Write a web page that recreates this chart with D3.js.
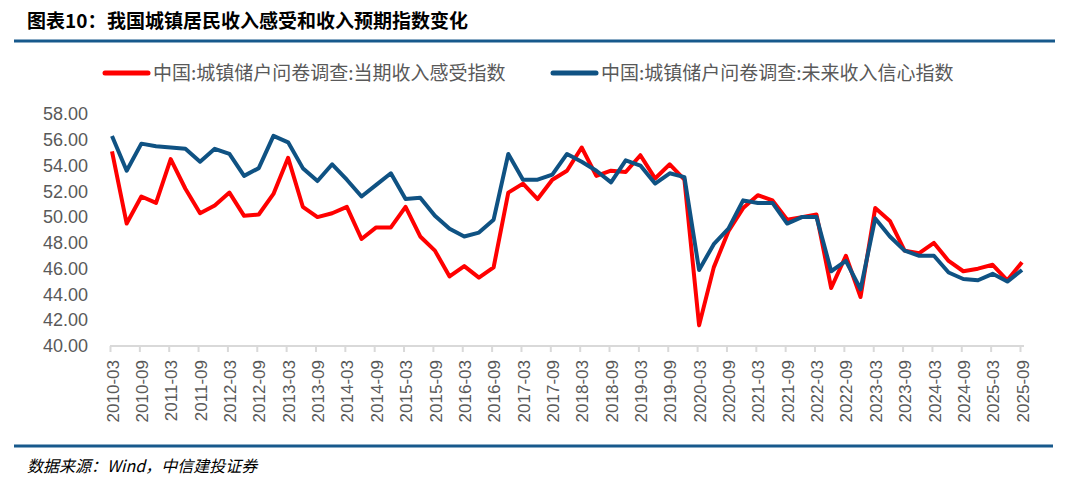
<!DOCTYPE html>
<html>
<head>
<meta charset="utf-8">
<script src="https://cdn.jsdelivr.net/npm/d3@7.9.0/dist/d3.min.js"></script>
<style>
  body { margin: 0; background: #fff; }
  svg { display: block; font-family: "Liberation Sans", Arial, sans-serif; }
  .cjk { font-family: "Noto Sans CJK SC", sans-serif; }
</style>
</head>
<body>
<svg id="chart" width="1080" height="491"></svg>
<script>
// Quarterly dates, 2010-03 .. 2025-09
const quarters = [];
for (let y = 2010; y <= 2025; y++) {
  for (const m of ['03', '06', '09', '12']) {
    if (y === 2025 && m === '12') continue;
    quarters.push(`${y}-${m}`);
  }
}

// 当期收入感受指数 (red)
const incomeNow = [
  55.1, 49.5, 51.6, 51.1, 54.5, 52.2, 50.3, 50.9, 51.9, 50.1,
  50.2, 51.8, 54.6, 50.8, 50.0, 50.3, 50.8, 48.3, 49.2, 49.2,
  50.8, 48.5, 47.4, 45.4, 46.2, 45.3, 46.1, 51.9, 52.6, 51.4,
  52.9, 53.6, 55.4, 53.2, 53.6, 53.5, 54.8, 53.0, 54.1, 52.9,
  41.6, 46.1, 48.9, 50.7, 51.7, 51.3, 49.8, 50.0, 50.2, 44.5,
  47.0, 43.8, 50.7, 49.7, 47.4, 47.2, 48.0, 46.6, 45.8, 46.0,
  46.3, 45.1, 46.5
];

// 未来收入信心指数 (blue)
const incomeFuture = [
  56.3, 53.6, 55.7, 55.5, 55.4, 55.3, 54.3, 55.3, 54.9, 53.2,
  53.8, 56.3, 55.8, 53.8, 52.8, 54.1, 52.9, 51.6, 52.5, 53.4,
  51.4, 51.5, 50.1, 49.1, 48.5, 48.8, 49.8, 54.9, 52.9, 52.9,
  53.3, 54.9, 54.3, 53.6, 52.7, 54.4, 54.0, 52.6, 53.4, 53.1,
  45.9, 47.9, 49.1, 51.3, 51.1, 51.1, 49.5, 50.0, 50.0, 45.8,
  46.6, 44.4, 49.9, 48.5, 47.4, 47.0, 47.0, 45.7, 45.2, 45.1,
  45.6, 45.0, 45.9
];

const yTicks = [40, 42, 44, 46, 48, 50, 52, 54, 56, 58];
const xTicks = quarters.filter((d, i) => i % 2 === 0);

const series = [
  { name: '中国:城镇储户问卷调查:当期收入感受指数', values: incomeNow, color: '#FF0000' },
  { name: '中国:城镇储户问卷调查:未来收入信心指数', values: incomeFuture, color: '#0F5283' }
];

const svg = d3.select('#chart');

const x = d3.scalePoint().domain(quarters).range([112, 1022]);
const y = d3.scaleLinear().domain([40, 58]).range([346, 114]);

// Title and rules
svg.append('text').attr('class', 'cjk')
  .attr('x', 27).attr('y', 28)
  .attr('font-size', 19).attr('font-weight', 'bold').attr('fill', '#000')
  .text('图表10：');
svg.append('text').attr('class', 'cjk')
  .attr('x', 107).attr('y', 28)
  .attr('font-size', 19).attr('font-weight', 'bold').attr('fill', '#000')
  .text('我国城镇居民收入感受和收入预期指数变化');

svg.append('line')
  .attr('x1', 14).attr('x2', 1055).attr('y1', 41).attr('y2', 41)
  .attr('stroke', '#17598C').attr('stroke-width', 3);
svg.append('line')
  .attr('x1', 14).attr('x2', 1053).attr('y1', 446).attr('y2', 446)
  .attr('stroke', '#17598C').attr('stroke-width', 3);

svg.append('text').attr('class', 'cjk')
  .attr('x', 27).attr('y', 472)
  .attr('font-size', 16).attr('font-style', 'italic').attr('fill', '#000')
  .text('数据来源：Wind，中信建投证券');

// Legend
const legendX = [105, 553];
series.forEach((s, idx) => {
  const g = svg.append('g').attr('transform', `translate(${legendX[idx]},73)`);
  g.append('line')
    .attr('x1', 0).attr('x2', 43).attr('y1', 0).attr('y2', 0)
    .attr('stroke', s.color).attr('stroke-width', 5).attr('stroke-linecap', 'round');
  g.append('text').attr('class', 'cjk')
    .attr('x', 48).attr('y', 7)
    .attr('font-size', 19).attr('fill', '#595959')
    .text(s.name);
});

// Y axis
const yAxis = svg.append('g')
  .attr('transform', 'translate(92,0)')
  .call(d3.axisLeft(y).tickValues(yTicks).tickSize(0).tickPadding(4).tickFormat(d3.format('.2f')));
yAxis.select('.domain').remove();
yAxis.selectAll('text').attr('font-size', 18).attr('fill', '#595959')
  .attr('font-family', '"Liberation Sans", Arial, sans-serif');

// X axis
const xAxis = svg.append('g')
  .attr('transform', 'translate(0,346)')
  .call(d3.axisBottom(x).tickValues(xTicks).tickSizeOuter(0).tickSizeInner(6));
xAxis.select('.domain').attr('stroke', '#D9D9D9').attr('stroke-width', 2)
  .attr('d', `M${x(quarters[0]) - 2},0H1024`);
xAxis.selectAll('.tick line').attr('stroke', '#D9D9D9').attr('stroke-width', 2)
  .attr('transform', 'translate(-2,0)');
xAxis.selectAll('.tick text')
  .attr('font-size', 17).attr('fill', '#595959')
  .attr('font-family', '"Liberation Sans", Arial, sans-serif')
  .attr('text-anchor', 'end')
  .attr('transform', 'rotate(-90)')
  .attr('x', -14).attr('y', 0).attr('dy', '0.36em');

// Lines
const line = d3.line()
  .x((d, i) => x(quarters[i]))
  .y(d => y(d));

series.forEach(s => {
  svg.append('path')
    .datum(s.values)
    .attr('d', line)
    .attr('fill', 'none')
    .attr('stroke', s.color)
    .attr('stroke-width', 4)
    .attr('stroke-linejoin', 'round');
});
</script>
</body>
</html>
